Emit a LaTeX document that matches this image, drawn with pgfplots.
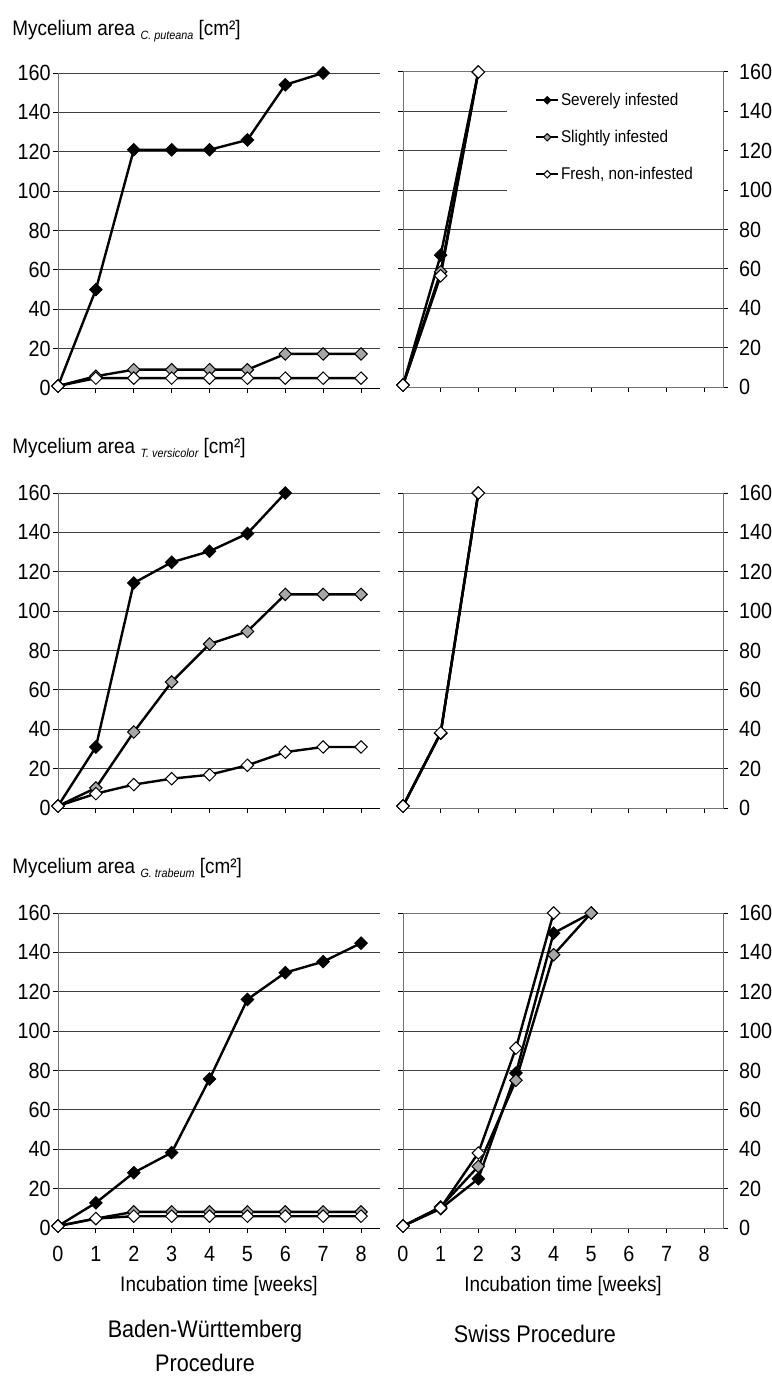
\documentclass[border=0pt]{standalone}
\usepackage{fontspec}
\setmainfont{Liberation Sans}[FakeStretch=0.9]
\usepackage{pgfplots}
\pgfplotsset{compat=1.18}

\pgfplotsset{
  panel/.style={
    scale only axis, height=157.5pt,
    xmin=0, xmax=8.5, ymin=0, ymax=160,
    xtick={0,...,8}, ytick={0,20,...,160},
    ymajorgrids, grid style={black!75, line width=0.5pt},
    tick align=outside, major tick length=2.5pt,
    tick style={black, line width=0.5pt},
    /pgf/number format/assume math mode=true,
    tick label style={font=\fontsize{11}{12}\selectfont},
    clip=false, anchor=south west,
  },
  leftpanel/.style={panel, width=161pt,
    axis x line*=bottom, axis y line*=left,
    axis line style={-, line width=0.5pt},
    y axis line style={black!55},
    yticklabel style={inner xsep=1pt},
  },
  rightpanel/.style={panel, width=160pt,
    xtick pos=bottom, ytick pos=both, yticklabel pos=right,
    axis line style={black!55, line width=0.5pt},
    yticklabel style={xshift=2pt},
  },
  bottomrow/.style={
    xlabel={Incubation time [weeks]},
    xticklabel style={yshift=-3pt},
    every axis x label/.style={at={(axis description cs:0.5,0)}, anchor=base, yshift=-31.5pt,
      font=\fontsize{10.5}{12}\selectfont},
  },
  ser/.style={black, line width=1.2pt, mark=square*, mark size=2.2pt,
    mark options={rotate=45, draw=black, line width=0.5pt, fill=#1}},
  sev/.style={ser=black},
  sli/.style={ser=black!35},
  fre/.style={ser=white},
  legend image code/.code={
    \draw[#1, line width=0.8pt, mark size=1.3pt, mark repeat=2, mark phase=2]
      plot coordinates {(0pt,0pt) (5.5pt,0pt) (11pt,0pt)};
  },
}

\newcommand{\ttl}[1]{Mycelium area {\fontsize{6}{7}\selectfont\itshape\raisebox{-2pt}{#1}} [cm²]}

\begin{document}
\begin{tikzpicture}
\useasboundingbox (0,0) rectangle (385.5pt,-688pt);

\node[anchor=base west, inner sep=0pt, font=\fontsize{10.5}{12}\selectfont] at (6pt,-17.5pt) {\ttl{C. puteana}};
\node[anchor=base west, inner sep=0pt, font=\fontsize{10.5}{12}\selectfont] at (6pt,-226.5pt) {\ttl{T. versicolor}};
\node[anchor=base west, inner sep=0pt, font=\fontsize{10.5}{12}\selectfont] at (6pt,-436.5pt) {\ttl{G. trabeum}};

% C. puteana, Baden-Wuerttemberg
\begin{axis}[leftpanel, at={(29pt,-194pt)}, xticklabels=\empty]
\addplot[sev] coordinates {(0,1) (1,50) (2,121) (3,121) (4,121) (5,126) (6,154) (7,160)};
\addplot[sli] coordinates {(0,1) (1,6) (2,9.3) (3,9.3) (4,9.3) (5,9.3) (6,17.3) (7,17.3) (8,17.3)};
\addplot[fre] coordinates {(0,1) (1,5) (2,5) (3,5) (4,5) (5,5) (6,5) (7,5) (8,5)};
\end{axis}

% C. puteana, Swiss
\begin{axis}[rightpanel, at={(201.5pt,-193.5pt)}, xticklabels=\empty,
  legend style={at={(rel axis cs:0.325,0.975)}, anchor=north west, draw=none, fill=white,
    font=\fontsize{8.5}{10}\selectfont, row sep=8.5pt, inner xsep=14pt, inner ysep=5pt,
    nodes={inner sep=1pt, text height=6.5pt, text depth=1.5pt}},
  legend cell align=left]
\addplot[sev] coordinates {(0,1) (1,67) (2,160)};
\addplot[sli] coordinates {(0,1) (1,58.5) (2,160)};
\addplot[fre] coordinates {(0,1) (1,56.5) (2,160)};
\legend{Severely infested, Slightly infested, {Fresh, non-infested}}
\end{axis}

% T. versicolor, Baden-Wuerttemberg
\begin{axis}[leftpanel, at={(29pt,-404pt)}, xticklabels=\empty]
\addplot[sev] coordinates {(0,1) (1,31) (2,114.3) (3,124.8) (4,130.4) (5,139.4) (6,160)};
\addplot[sli] coordinates {(0,1) (1,10.2) (2,38.6) (3,64) (4,83.3) (5,89.7) (6,108.5) (7,108.5) (8,108.5)};
\addplot[fre] coordinates {(0,1) (1,7.3) (2,11.9) (3,14.9) (4,16.9) (5,21.7) (6,28.4) (7,31) (8,31)};
\end{axis}

% T. versicolor, Swiss
\begin{axis}[rightpanel, at={(201.5pt,-404pt)}, xticklabels=\empty]
\addplot[sev] coordinates {(0,1) (1,38) (2,160)};
\addplot[sli] coordinates {(0,1) (1,38) (2,160)};
\addplot[fre] coordinates {(0,1) (1,38.2) (2,160)};
\end{axis}

% G. trabeum, Baden-Wuerttemberg
\begin{axis}[leftpanel, bottomrow, at={(29pt,-614pt)}]
\addplot[sev] coordinates {(0,1) (1,12.8) (2,28.1) (3,38.3) (4,75.7) (5,116.1) (6,129.7) (7,135.3) (8,144.7)};
\addplot[sli] coordinates {(0,1) (1,4.8) (2,8.2) (3,8.2) (4,8.2) (5,8.2) (6,8.2) (7,8.2) (8,8.2)};
\addplot[fre] coordinates {(0,1) (1,4.8) (2,6) (3,6) (4,6) (5,6) (6,6) (7,6) (8,6)};
\end{axis}

% G. trabeum, Swiss
\begin{axis}[rightpanel, bottomrow, at={(201.5pt,-614pt)}]
\addplot[sev] coordinates {(0,1) (1,9.8) (2,25) (3,78.7) (4,149.8) (5,160)};
\addplot[sli] coordinates {(0,1) (1,10.7) (2,31.3) (3,75) (4,138.8) (5,160)};
\addplot[fre] coordinates {(0,1) (1,10.2) (2,38.1) (3,91.4) (4,160)};
\end{axis}

\node[anchor=base, font=\fontsize{12}{14}\selectfont] at (102.5pt,-668.5pt) {Baden-Württemberg};
\node[anchor=base, font=\fontsize{12}{14}\selectfont] at (102.5pt,-685.5pt) {Procedure};
\node[anchor=base, font=\fontsize{12}{14}\selectfont] at (267.5pt,-671pt) {Swiss Procedure};
\end{tikzpicture}
\end{document}
